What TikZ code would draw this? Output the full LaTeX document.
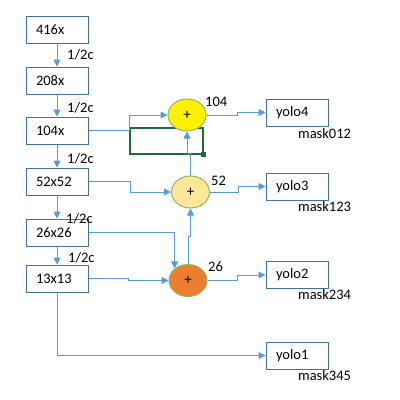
\documentclass[tikz,border=0pt]{standalone}
\usepackage{fontspec}
\setmainfont{Carlito}
\usetikzlibrary{arrows.meta,shapes.geometric,calc}
\definecolor{boxblue}{HTML}{41719C}
\definecolor{linkblue}{HTML}{5B9BD5}
\definecolor{ringgreen}{HTML}{8DB95C}
\definecolor{darkgreen}{HTML}{1E6B3A}
\definecolor{lightorange}{HTML}{FFE699}
\definecolor{orangefill}{HTML}{ED7D31}
\tikzset{
  x=1pt, y=-1pt,
  every node/.style={font=\fontsize{14.5}{16}\selectfont},
  sizebox/.style={draw=boxblue, line width=1pt, fill=white, minimum height=27pt,
    text width=42pt, align=left, inner xsep=10pt, inner ysep=0pt},
  sumnode/.style={ellipse, draw=ringgreen, line width=1pt, minimum width=38pt,
    minimum height=32pt, inner sep=0pt, font=\fontsize{15}{16}\selectfont},
  conn/.style={draw=linkblue, line width=1pt, -{Triangle[length=7pt,width=7pt]}},
  lbl/.style={inner sep=0pt, anchor=west},
}
\begin{document}
\begin{tikzpicture}
\useasboundingbox (0,0) rectangle (400,400);
% left column
\node[sizebox] (b416) at (57,29.5) {416x};
\node[sizebox] (b208) at (57,80.5) {208x};
\node[sizebox] (b104) at (57,130.5) {104x};
\node[sizebox] (b52) at (57,181.5) {52x52};
\node[sizebox] (b26) at (57,232.5) {26x26};
\node[sizebox] (b13) at (57,278.5) {13x13};
% yolo boxes
\node[sizebox] (y4) at (297,112.5) {yolo4};
\node[sizebox] (y3) at (297,186.5) {yolo3};
\node[sizebox] (y2) at (297,275) {yolo2};
\node[sizebox] (y1) at (297,355.5) {yolo1};
% green rectangle
\draw[darkgreen, line width=2pt] (130,128) rectangle (203,154);
\fill[darkgreen] (200.5,151.5) rectangle (205.5,156.5);
% sum nodes
\node[sumnode, fill=yellow] (c104) at (187,115) {+};
\node[sumnode, fill=lightorange] (c52) at (190.5,192) {+};
\node[sumnode, fill=orangefill] (c26) at (188,280.5) {+};
% downsampling arrows
\draw[conn] (b416.south) -- (b208.north);
\draw[conn] (b208.south) -- (b104.north);
\draw[conn] (b104.south) -- (b52.north);
\draw[conn] (b52.south) -- (b26.north);
\draw[conn] (b26.south) -- (b13.north);
\node[lbl] (h1) at (67,55) {1/2c};
\node[lbl] (h2) at (67,108) {1/2c};
\node[lbl] (h3) at (67,159) {1/2c};
\node[lbl] (h4) at (66,219) {1/2c};
\node[lbl] (h5) at (68,258) {1/2c};
% lateral connections
\draw[conn] (b104.east) -- ++(41,0) |- (c104.west);
\draw[conn] (b52.east) -- ++(42,0) |- (c52.west);
\draw[conn] (b26.east) -| (c26.138);
\draw[conn] (b13.east) -- ++(40,0) |- (c26.west);
\draw[conn] (b13.south) |- (y1.west);
% upward
\draw[conn] (c26.north) -- ++(0,-28) -| (c52.south);
\draw[conn] (c52.north) -- ++(0,-22) -| (c104.south);
% outputs
\draw[conn] (c104.east) -- ++(31,0) |- (y4.west);
\draw[conn] (c52.east) -- ++(28,0) |- (y3.west);
\draw[conn] (c26.east) -- ++(30,0) |- (y2.west);
% labels
\node[lbl] (l104) at (205,102) {104};
\node[lbl] (l52) at (211,181) {52};
\node[lbl] (l26) at (208,267) {26};
\node[lbl] (m4) at (298,134) {mask012};
\node[lbl] (m3) at (298,207) {mask123};
\node[lbl] (m2) at (298,295) {mask234};
\node[lbl] (m1) at (298,376) {mask345};
\end{tikzpicture}
\end{document}
